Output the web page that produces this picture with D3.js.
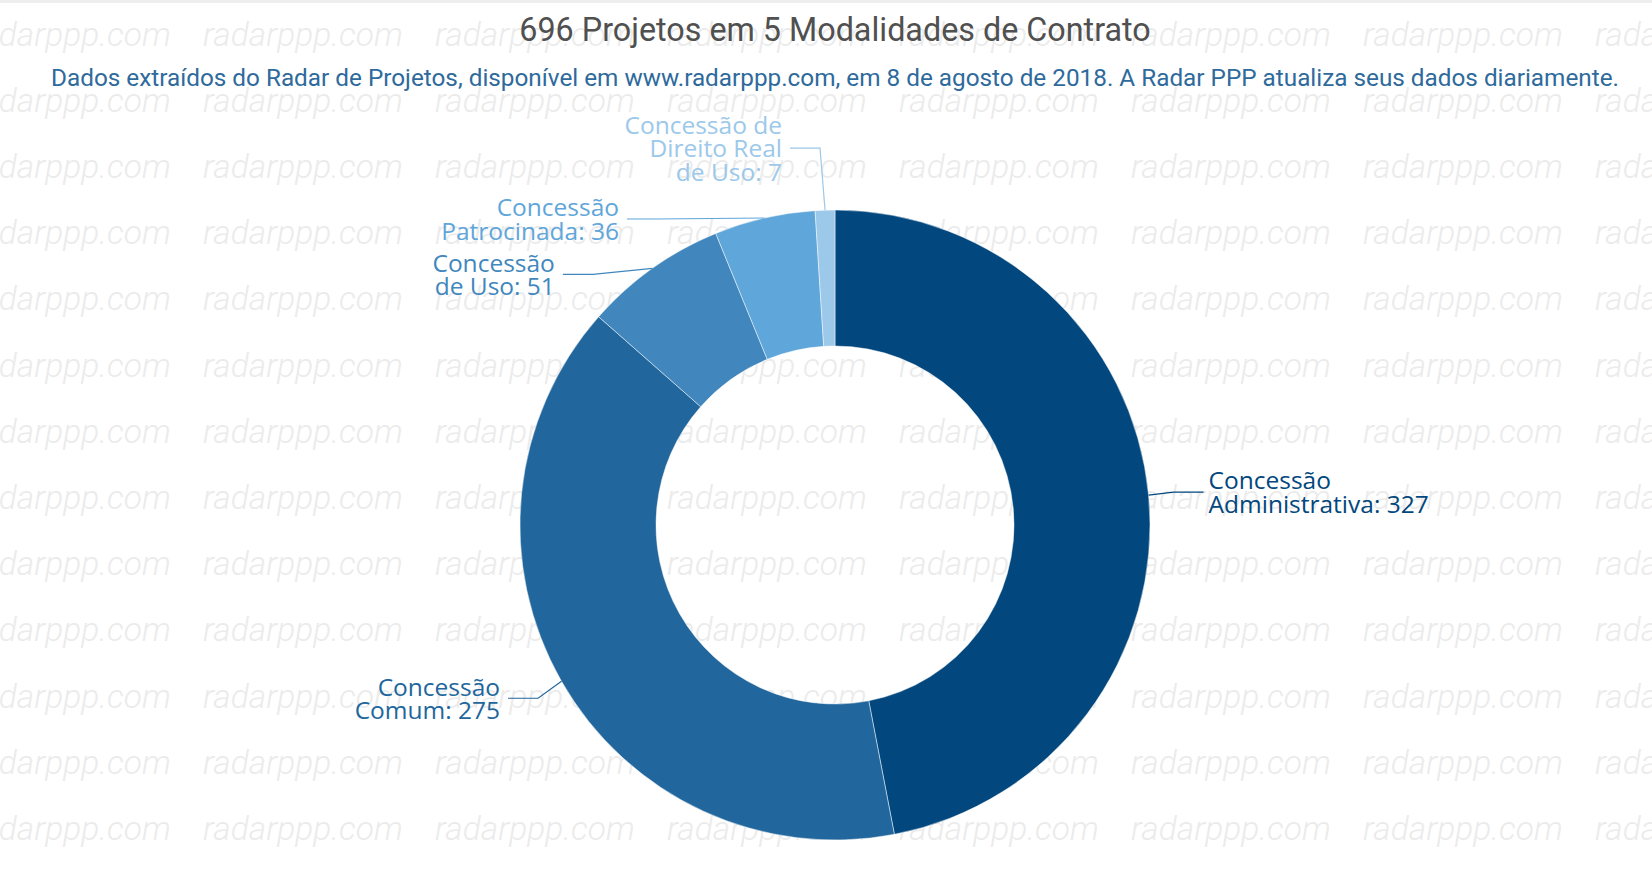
<!DOCTYPE html>
<html>
<head>
<meta charset="utf-8">
<script src="https://cdn.jsdelivr.net/npm/d3@7"></script>
<style>
  html, body { margin: 0; padding: 0; background: #fff; }
  svg { display: block; }
</style>
</head>
<body>
<div id="vis"></div>
<script>

// Data ----------------------------------------------------------------------

var categories = ["Concessão Administrativa", "Concessão Comum", "Concessão de Uso",
                  "Concessão Patrocinada", "Concessão de Direito Real de Uso"];
var values = [327, 275, 51, 36, 7];
var labelLines = [
  ["Concessão", "Administrativa: 327"],
  ["Concessão", "Comum: 275"],
  ["Concessão", "de Uso: 51"],
  ["Concessão", "Patrocinada: 36"],
  ["Concessão de", "Direito Real", "de Uso: 7"]
];
var colors = ["#02477d", "#21669c", "#4187bd", "#5fa6da", "#9cc8ea"];

var title = "696 Projetos em 5 Modalidades de Contrato";
var subtitle = "Dados extraídos do Radar de Projetos, disponível em www.radarppp.com, em 8 de agosto de 2018. A Radar PPP atualiza seus dados diariamente.";
var watermark = "radarppp.com";

// Setup ---------------------------------------------------------------------

var width = 1652, height = 876;
var cx = 835, cy = 525,
    outerR = 315, innerR = 179,
    labelR = 370, lineH = 23.5;

// vertical nudges of the labels so they do not collide (layout only)
var labelShift = [-3, 17, 6, 1, -62];

var svg = d3.select("#vis").append("svg")
  .attr("width", width)
  .attr("height", height);

svg.append("rect")
  .attr("width", width)
  .attr("height", height)
  .attr("fill", "#fff");

// thin frame at the top
svg.append("rect")
  .attr("x", 0).attr("y", 0)
  .attr("width", width).attr("height", 3)
  .attr("fill", "#eeeeee");

// Watermark -----------------------------------------------------------------

var wm = svg.append("g").attr("class", "watermark");
d3.range(13).forEach(function(k) {
  d3.range(8).forEach(function(j) {
    wm.append("text")
      .attr("x", -29 + 232 * j)
      .attr("y", 45.5 + 66.2 * k)
      .attr("font-family", "Roboto")
      .attr("font-style", "italic")
      .attr("font-weight", 300)
      .attr("font-size", 33.5)
      .attr("fill", "#ebebeb")
      .text(watermark);
  });
});

// Titles --------------------------------------------------------------------

svg.append("text")
  .attr("x", cx)
  .attr("y", 40.5)
  .attr("text-anchor", "middle")
  .attr("font-family", "Roboto")
  .attr("font-size", 32.3)
  .attr("fill", "#505050")
  .text(title);

svg.append("text")
  .attr("x", cx)
  .attr("y", 86)
  .attr("text-anchor", "middle")
  .attr("font-family", "Roboto")
  .attr("font-size", 24.3)
  .attr("fill", "#2e6a9c")
  .text(subtitle);

// Donut ---------------------------------------------------------------------

var pie = d3.pie()
  .sort(null)
  .value(function(d) { return d; });

var arc = d3.arc()
  .innerRadius(innerR)
  .outerRadius(outerR);

var arcs = pie(values);

var chart = svg.append("g")
  .attr("transform", "translate(" + cx + "," + cy + ")");

chart.selectAll(".slice")
  .data(arcs)
  .enter()
  .append("path")
  .attr("class", "slice")
  .attr("d", arc)
  .attr("fill", function(d, i) { return colors[i]; })
  .attr("stroke", "#ffffff")
  .attr("stroke-width", 0.8)
  .attr("stroke-opacity", 0.6);

// Labels --------------------------------------------------------------------

arcs.forEach(function(d, i) {
  var a = (d.startAngle + d.endAngle) / 2;
  var left = Math.sin(a) < 0;
  var px = outerR * Math.sin(a),
      py = -outerR * Math.cos(a);
  var ly = py + labelShift[i];
  var dx = Math.sqrt(Math.max(labelR * labelR - ly * ly, 0));
  dx = Math.max(dx, 45);
  var lx = left ? -dx : dx;
  var bx = left ? lx + 30 : lx - 30;

  chart.append("path")
    .attr("d", d3.line()([[lx, ly], [bx, ly], [px, py]]))
    .attr("fill", "none")
    .attr("stroke", colors[i])
    .attr("stroke-width", 1.2);

  var lines = labelLines[i];
  var t = chart.append("text")
    .attr("text-anchor", left ? "end" : "start")
    .attr("font-family", "Open Sans")
    .attr("font-size", 24.5)
    .attr("fill", colors[i]);

  lines.forEach(function(s, k) {
    t.append("tspan")
      .attr("x", left ? lx - 8 : lx + 5)
      .attr("y", ly + (k - (lines.length - 1) / 2) * lineH + 9)
      .text(s);
  });
});

</script>
</body>
</html>
